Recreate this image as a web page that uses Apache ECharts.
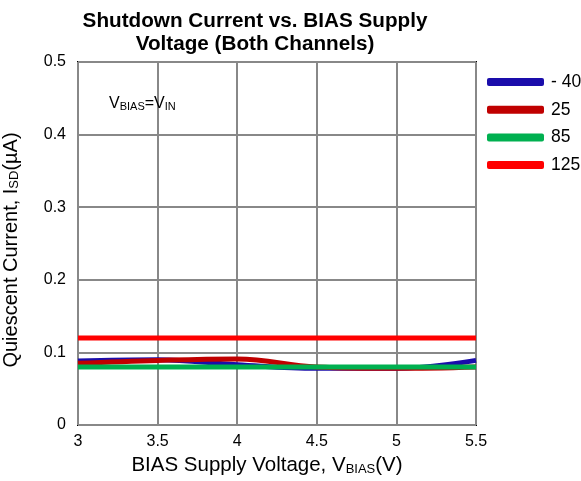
<!DOCTYPE html>
<html><head><meta charset="utf-8">
<script src="https://cdn.jsdelivr.net/npm/echarts@6/dist/echarts.min.js"></script>
<style>html,body{margin:0;padding:0;background:#fff}#c{width:581px;height:481px}</style>
</head><body><div id="c"></div>
<script>
const xValues = [3, 3.5, 4, 4.5, 5, 5.5];
const seriesNames = ['- 40', '25', '85', '125'];
const sM40 = [0.088, 0.090, 0.083, 0.078, 0.078, 0.089];
const s25 = [0.085, 0.089, 0.091, 0.080, 0.078, 0.080];
const s85 = [0.080, 0.080, 0.080, 0.080, 0.080, 0.080];
const s125 = [0.120, 0.120, 0.120, 0.120, 0.120, 0.120];
const colors = ['#1a0dab', '#c00000', '#00b050', '#ff0000'];
const allData = [sM40, s25, s85, s125];

const font = 'Liberation Sans, Arial, sans-serif';
const chart = echarts.init(document.getElementById('c'), null, {renderer: 'canvas'});
chart.setOption({
  animation: false,
  title: [{
    text: 'Shutdown Current vs. BIAS Supply\nVoltage (Both Channels)',
    left: 250, top: 5, textAlign: 'center',
    textStyle: {fontFamily: font, fontSize: 20.7, fontWeight: 'bold', color: '#000', lineHeight: 23}
  }, {
    text: '{n|V}{s|BIAS}{n|=V}{s|IN}',
    left: 104, top: 90,
    textStyle: {fontWeight: 'normal', rich: {
      n: {fontFamily: font, fontSize: 16, fontWeight: 'normal', color: '#000'},
      s: {fontFamily: font, fontSize: 11, fontWeight: 'normal', color: '#000', verticalAlign: 'bottom', padding: [6, 0, 0, 0]}
    }}
  }],
  legend: {
    orient: 'vertical', left: 482, top: 68, itemGap: 9.7,
    itemWidth: 57, itemHeight: 8, icon: 'roundRect',
    textStyle: {fontFamily: font, fontSize: 17.5, color: '#000', padding: [0, 0, 0, 2]},
    data: seriesNames
  },
  grid: {left: 78, right: 105, top: 62, bottom: 56, outerBoundsMode: 'none', containLabel: false,
    show: true, borderColor: '#000', borderWidth: 2, backgroundColor: 'transparent'},
  xAxis: {
    type: 'value', min: 3, max: 5.5, interval: 0.5,
    axisLine: {show: false}, axisTick: {show: false},
    splitLine: {show: true, lineStyle: {color: '#888888', width: 2}},
    axisLabel: {fontFamily: font, fontSize: 16, color: '#000', margin: 9},
    name: '{n|BIAS Supply Voltage, V}{s|BIAS}{n|(V)}', nameLocation: 'middle', nameGap: 28,
    nameTextStyle: {padding: [0, 20, 0, 0], rich: {
      n: {fontFamily: font, fontSize: 20.5, color: '#000'},
      s: {fontFamily: font, fontSize: 13, color: '#000', verticalAlign: 'bottom', padding: [7, 0, 0, 0]}
    }}
  },
  yAxis: {
    type: 'value', min: 0, max: 0.5, interval: 0.1,
    axisLine: {show: false}, axisTick: {show: false},
    splitLine: {show: true, lineStyle: {color: '#888888', width: 2}},
    axisLabel: {fontFamily: font, fontSize: 16, color: '#000', margin: 12},
    name: '{n|Quiescent Current, I}{s|SD}{n|(µA)}', nameLocation: 'middle', nameGap: 57, nameRotate: 90,
    nameTextStyle: {padding: [0, 13, 0, 0], rich: {
      n: {fontFamily: font, fontSize: 20, color: '#000'},
      s: {fontFamily: font, fontSize: 13, color: '#000', verticalAlign: 'bottom', padding: [7, 0, 0, 0]}
    }}
  },
  series: seriesNames.map((n, i) => ({
    name: n, type: 'line', smooth: 0.4, showSymbol: false, symbol: 'none',
    data: xValues.map((x, j) => [x, allData[i][j]]),
    lineStyle: {color: colors[i], width: 5},
    itemStyle: {color: colors[i]}
  }))
});
</script></body></html>
